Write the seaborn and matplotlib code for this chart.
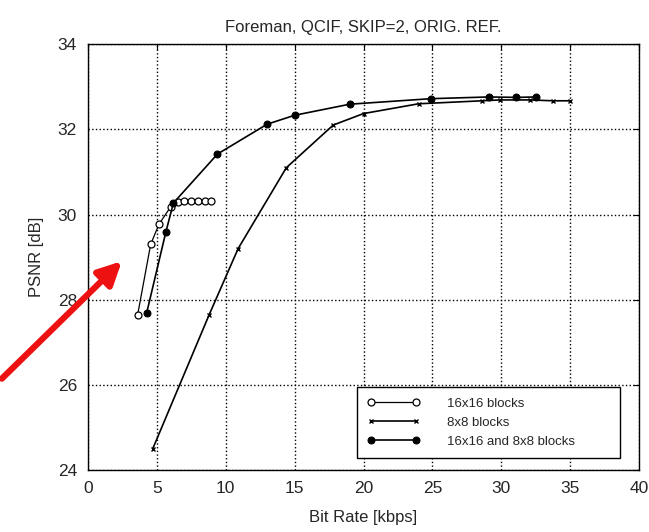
import numpy as np
import matplotlib
matplotlib.use("Agg")
import matplotlib.pyplot as plt
import seaborn as sns
import pandas as pd

# values
rate_16 = [3.6, 4.55, 5.15, 6.0, 6.5, 7.0, 7.5, 8.0, 8.5, 8.9]
psnr_16 = [27.64, 29.3, 29.77, 30.18, 30.3, 30.31, 30.31, 30.31, 30.31, 30.31]

rate_8 = [4.7, 8.8, 10.9, 14.4, 17.8, 20.0, 24.0, 28.6, 29.9, 32.1, 33.75, 35.0]
psnr_8 = [24.5, 27.65, 29.2, 31.1, 32.1, 32.37, 32.6, 32.67, 32.69, 32.69, 32.67, 32.67]

rate_both = [4.26, 5.66, 6.2, 9.4, 13.0, 15.0, 19.0, 24.9, 29.1, 31.1, 32.5]
psnr_both = [27.69, 29.6, 30.27, 31.42, 32.12, 32.33, 32.59, 32.72, 32.76, 32.75, 32.76]

sns.set_style("white")
plt.rcParams['font.family'] = ['Liberation Sans', 'DejaVu Sans']

fig = plt.figure(figsize=(6.49, 5.32), dpi=100)
ax = fig.add_axes([0.1356, 0.1165, 0.849, 0.8005])

df16 = pd.DataFrame({"rate": rate_16, "psnr": psnr_16})
df8 = pd.DataFrame({"rate": rate_8, "psnr": psnr_8})
dfb = pd.DataFrame({"rate": rate_both, "psnr": psnr_both})

sns.lineplot(x="rate", y="psnr", data=df16, sort=False, ax=ax, color="black",
             lw=0.9, marker="o", markersize=5, markerfacecolor="white",
             markeredgecolor="black", markeredgewidth=0.9, label="16x16 blocks")
sns.lineplot(x="rate", y="psnr", data=df8, sort=False, ax=ax, color="black",
             lw=1.2, marker="x", markersize=3.5, markeredgewidth=1.0,
             markeredgecolor="black", markerfacecolor="black",
             label="8x8 blocks")
sns.lineplot(x="rate", y="psnr", data=dfb, sort=False, ax=ax, color="black",
             lw=1.2, marker="o", markersize=5, markerfacecolor="black",
             markeredgecolor="black", label="16x16 and 8x8 blocks")

ax.set_xlim(0, 40)
ax.set_ylim(24, 34)
ax.set_xticks(range(0, 41, 5))
ax.set_yticks(range(24, 35, 2))
ax.grid(True, linestyle=":", color="black", linewidth=1.0)
ax.tick_params(direction="in", top=True, right=True, labelsize=12.5, length=4,
               color="black", pad=8)
for s in ax.spines.values():
    s.set_color("black")
    s.set_linewidth(1.0)

ax.set_xlabel("Bit Rate [kbps]", fontsize=12, labelpad=10)
ax.set_ylabel("PSNR [dB]", fontsize=12, labelpad=10)
ax.set_title("Foreman, QCIF, SKIP=2, ORIG. REF.", fontsize=12, pad=9)

leg = ax.legend(loc="lower left", bbox_to_anchor=(0.488, 0.028, 0.477, 0.17),
                mode="expand", fontsize=9.5, numpoints=2, fancybox=False,
                framealpha=1, edgecolor="black", handlelength=4,
                handletextpad=2, labelspacing=0.5, borderpad=0.8,
                borderaxespad=0)
leg.get_frame().set_linewidth(1.0)

ax.annotate("", xy=(2.6, 28.95), xytext=(-6.4, 26.1), xycoords="data",
            annotation_clip=False,
            arrowprops=dict(arrowstyle="-|>,head_length=1.4,head_width=0.7",
                            color="#ee1111", lw=4.5))

fig.savefig("out.png", dpi=100)
